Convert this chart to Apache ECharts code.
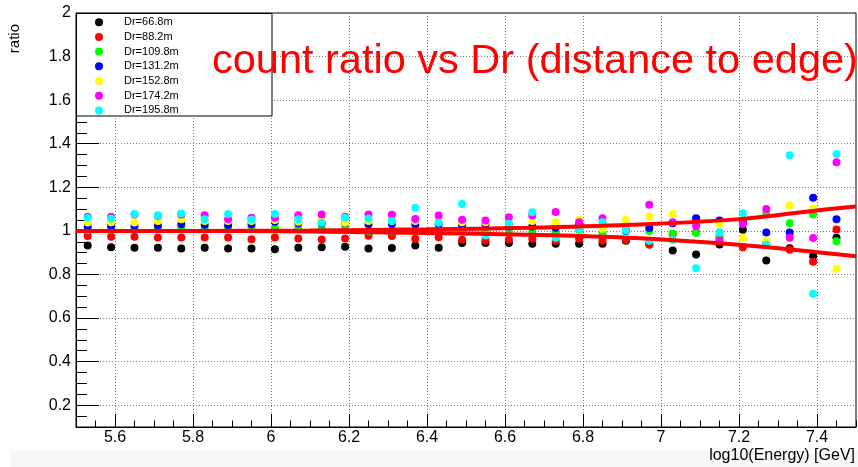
<!DOCTYPE html>
<html>
<head>
<meta charset="utf-8">
<script src="https://cdn.jsdelivr.net/npm/echarts@6/dist/echarts.min.js"></script>
<style>
html,body{margin:0;padding:0;background:#fff;}
#chart{width:858px;height:467px;}
</style>
</head>
<body>
<div id="chart"></div>
<script>
// ---- data ----
const energy = [5.53, 5.59, 5.65, 5.71, 5.77, 5.83, 5.89, 5.95, 6.01, 6.07, 6.13,
  6.19, 6.25, 6.31, 6.37, 6.43, 6.49, 6.55, 6.61, 6.67, 6.73, 6.79, 6.85, 6.91,
  6.97, 7.03, 7.09, 7.15, 7.21, 7.27, 7.33, 7.39, 7.45];

const seriesNames = ['Dr=66.8m', 'Dr=88.2m', 'Dr=109.8m', 'Dr=131.2m', 'Dr=152.8m', 'Dr=174.2m', 'Dr=195.8m'];
const seriesColors = ['#000000', '#ff0000', '#00ff00', '#0000ff', '#ffff00', '#ff00ff', '#00ffff'];

const dr668 = [0.933, 0.925, 0.923, 0.923, 0.919, 0.923, 0.919, 0.919, 0.916, 0.923, 0.925,
  0.927, 0.919, 0.921, 0.933, 0.923, 0.944, 0.945, 0.944, 0.941, 0.941, 0.941, 0.941, 0.955,
  0.940, 0.910, 0.892, 0.938, 1.005, 0.864, 0.920, 0.884, 0.968];
const dr882 = [0.976, 0.973, 0.973, 0.970, 0.970, 0.970, 0.970, 0.962, 0.970, 0.965, 0.961,
  0.965, 0.978, 0.976, 0.964, 0.971, 0.959, 0.956, 0.959, 0.964, 0.955, 0.964, 0.955, 0.958,
  0.936, 0.985, 0.994, 0.970, 0.925, 0.947, 0.913, 0.858, 1.006];
const dr1098 = [1.003, 1.005, 1.008, 1.008, 1.010, 1.010, 1.014, 1.014, 1.012, 1.011, 1.010,
  1.012, 1.000, 1.000, 1.000, 1.000, 0.998, 1.000, 0.999, 1.000, 0.994, 1.005, 0.991, 1.000,
  0.999, 0.988, 0.990, 0.975, 1.048, 1.081, 1.035, 1.075, 0.953];
const dr1312 = [1.020, 1.022, 1.023, 1.025, 1.031, 1.028, 1.027, 1.030, 1.042, 1.035, 1.035,
  1.035, 1.031, 1.032, 1.029, 1.030, 1.025, 1.030, 1.020, 1.020, 1.014, 1.030, 1.020, 1.000,
  1.013, 1.035, 1.058, 1.048, 1.040, 0.993, 0.993, 1.152, 1.054];
const dr1528 = [1.038, 1.040, 1.038, 1.045, 1.054, 1.045, 1.045, 1.045, 1.050, 1.042, 1.050,
  1.037, 1.045, 1.045, 1.045, 1.050, 1.040, 1.040, 1.035, 1.045, 1.040, 1.051, 1.010, 1.051,
  1.066, 1.078, 1.030, 1.029, 0.968, 0.955, 1.116, 1.104, 0.826];
const dr1742 = [1.065, 1.065, 1.075, 1.070, 1.075, 1.072, 1.054, 1.060, 1.060, 1.072, 1.075,
  1.065, 1.075, 1.074, 1.055, 1.071, 1.051, 1.048, 1.063, 1.071, 1.087, 1.040, 1.058, 1.005,
  1.120, 1.040, 1.022, 0.956, 1.032, 1.101, 0.968, 0.967, 1.315];
const dr1958 = [1.060, 1.057, 1.077, 1.072, 1.080, 1.054, 1.077, 1.052, 1.077, 1.054, 1.037,
  1.060, 1.057, 1.045, 1.106, 1.037, 1.124, 0.979, 1.033, 1.086, 0.968, 1.010, 1.040, 1.002,
  0.955, 0.958, 0.828, 0.994, 1.081, 0.936, 1.347, 0.712, 1.353];

const seriesValues = [dr668, dr882, dr1098, dr1312, dr1528, dr1742, dr1958];

// red band (fit curves)
const bandX = [5.5, 5.8, 6.1, 6.4, 6.66, 6.92, 7.2, 7.4, 7.5];
const bandUpper = [1.0, 1.0, 1.002, 1.007, 1.014, 1.028, 1.054, 1.094, 1.112];
const bandLower = [1.0, 1.0, 0.997, 0.990, 0.982, 0.968, 0.936, 0.902, 0.884];

const titleText = 'count ratio vs Dr (distance to edge)';
const xTitle = 'log10(Energy) [GeV]';
const yTitle = 'ratio';

// ---- chart ----
const chart = echarts.init(document.getElementById('chart'), null, {renderer: 'canvas'});
const FONT = 'Liberation Sans';
const gridStyle = {show: true, lineStyle: {color: '#7a7a7a', type: [1, 2], width: 1}};

const scatterSeries = seriesNames.map((name, k) => ({
  name: name,
  type: 'scatter',
  symbol: 'circle',
  symbolSize: 8,
  itemStyle: {color: seriesColors[k], opacity: 1},
  data: energy.map((x, i) => [x, seriesValues[k][i]]),
  z: 3 + k * 0.01,
  xAxisIndex: 0, yAxisIndex: 0
}));

const lineSeries = [bandUpper, bandLower].map((vals, k) => ({
  name: k === 0 ? 'upper' : 'lower',
  type: 'line',
  smooth: 0.4,
  symbol: 'none',
  lineStyle: {color: '#ff0000', width: 4},
  data: bandX.map((x, i) => [x, vals[i]]),
  z: 4,
  xAxisIndex: 0, yAxisIndex: 0
}));

chart.setOption({
  animation: false,
  backgroundColor: '#ffffff',
  textStyle: {fontFamily: FONT},
  grid: {left: 76, right: 2, top: 13, bottom: 40, show: true, borderColor: '#000', borderWidth: 1, backgroundColor: 'transparent'},
  xAxis: [{
    type: 'value', min: 5.5, max: 7.5, minInterval: 0.2, maxInterval: 0.2, splitNumber: 10,
    axisLine: {show: true, onZero: false, lineStyle: {color: '#000', width: 1}},
    axisTick: {show: true, inside: true, length: 13, lineStyle: {color: '#000'}},
    axisLabel: {show: true, margin: 3, fontSize: 16, color: '#000', fontFamily: FONT, showMinLabel: false, showMaxLabel: false},
    splitLine: gridStyle
  }, {
    type: 'value', min: 5.5, max: 7.5, interval: 0.05, position: 'bottom',
    axisLine: {show: false}, axisLabel: {show: false}, splitLine: {show: false},
    axisTick: {show: true, inside: true, length: 6.5, lineStyle: {color: '#000'}}
  }],
  yAxis: [{
    type: 'value', min: 0.1, max: 2, minInterval: 0.2, maxInterval: 0.2, splitNumber: 10,
    axisLine: {show: true, onZero: false, lineStyle: {color: '#000', width: 1}},
    axisTick: {show: true, inside: true, length: 23, lineStyle: {color: '#000'}},
    axisLabel: {show: true, margin: 5, fontSize: 16, color: '#000', fontFamily: FONT, showMinLabel: false},
    splitLine: gridStyle
  }, {
    type: 'value', min: 0.1, max: 2, interval: 0.05, position: 'left',
    axisLine: {show: false}, axisLabel: {show: false}, splitLine: {show: false},
    axisTick: {show: true, inside: true, length: 11, lineStyle: {color: '#000'}}
  }],
  legend: {
    data: seriesNames,
    orient: 'vertical',
    left: 95, top: 16.7,
    itemWidth: 40, itemHeight: 8, itemGap: 3.7,
    icon: 'circle',
    padding: 0,
    textStyle: {fontSize: 11, lineHeight: 11, color: '#000', fontFamily: FONT},
    selectedMode: false,
    z: 10
  },
  graphic: [
    {type: 'rect', shape: {x: 10, y: 451, width: 848, height: 16}, style: {fill: '#f7f7f7'}, z: -10, silent: true},
    {type: 'rect', shape: {x: 76.5, y: 13.5, width: 195.5, height: 102.5}, style: {fill: '#fff', stroke: '#000', lineWidth: 1}, z: 8, silent: true},
    {type: 'text', x: 212, y: 62, style: {text: titleText, fill: '#ff0000', font: '41.5px "Liberation Sans"', textAlign: 'left', textVerticalAlign: 'middle'}, z: 9},
    {type: 'text', x: 15, y: 24, rotation: Math.PI / 2, style: {text: yTitle, fill: '#000', font: '15px "Liberation Sans"', textAlign: 'right', textVerticalAlign: 'middle'}, z: 9},
    {type: 'text', x: 855, y: 456, style: {text: xTitle, fill: '#000', font: '16px "Liberation Sans"', textAlign: 'right', textVerticalAlign: 'middle'}, z: 9}
  ],
  series: scatterSeries.concat(lineSeries)
});
</script>
</body>
</html>
